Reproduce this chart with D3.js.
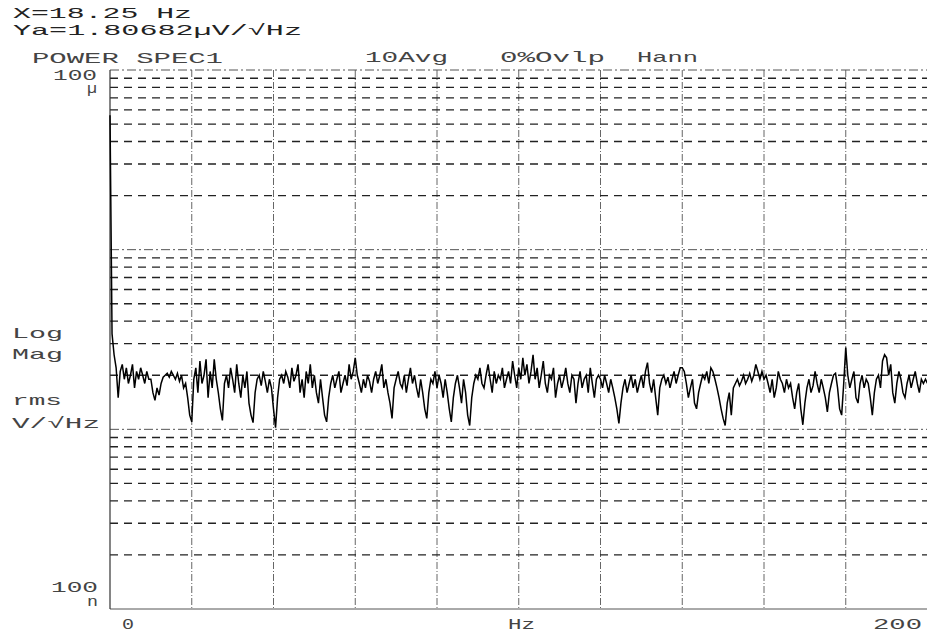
<!DOCTYPE html>
<meta charset="utf-8">
<style>
  body { margin: 0; background: #fff; }
  text { font-family: "Liberation Mono", "DejaVu Sans Mono", monospace; font-size: 15px; fill: #222; }
  text.light { fill: #444; }
</style>
<svg width="927" height="634"></svg>
<script src="https://d3js.org/d3.v7.min.js"></script>
<script>

// spectrum, 0..200 Hz in 0.5 Hz steps, values in uV/rtHz
var spectrum = [
  56, 3.4, 2.6, 2.2, 1.5, 2.1, 2.3, 1.9, 2.2, 1.8, 2.0, 2.3, 1.7, 2.1, 1.9, 2.2, 2.0, 1.8, 2.1, 1.9,
  1.9, 1.6, 1.45, 1.7, 1.55, 1.8, 1.95, 2.0, 2.05, 1.95, 2.1, 2.0, 1.9, 2.05, 1.85, 2.0, 1.7, 1.8, 1.5, 1.2,
  1.1, 1.9, 2.2, 1.6, 2.4, 1.8, 2.0, 2.45, 1.5, 2.1, 1.7, 2.45, 1.9, 1.6, 1.3, 1.12, 1.8, 2.0, 1.7, 2.2,
  1.9, 1.6, 2.3, 1.8, 1.5, 2.0, 1.7, 2.1, 1.4, 1.2, 1.09, 1.6, 1.9, 2.0, 1.75, 2.1, 1.85, 1.6, 1.9, 1.7,
  1.3, 1.02, 1.5, 1.9, 2.0, 1.8, 2.1, 1.95, 1.7, 2.2, 1.85, 2.0, 2.3, 1.6, 1.9, 1.5, 2.1, 1.8, 2.3, 1.7,
  2.0, 1.6, 1.4, 1.9, 1.5, 1.2, 1.1, 1.5, 1.8, 2.0, 1.7, 1.9, 2.1, 1.6, 1.8, 2.0, 1.75, 2.3, 1.9, 2.1,
  2.5, 2.0, 1.8, 1.6, 1.9, 1.7, 2.0, 1.85, 1.6, 1.9, 2.1, 1.8, 2.0, 2.3, 1.7, 1.9, 1.6, 1.4, 1.15, 1.7,
  1.9, 2.1, 1.8, 1.7, 2.0, 1.6, 1.9, 2.2, 1.8, 2.0, 1.7, 1.5, 1.9, 1.6, 1.3, 1.15, 1.6, 1.9, 1.8, 2.1,
  1.7, 2.0, 1.8, 1.5, 1.9, 1.6, 1.3, 1.1, 1.5, 1.8, 2.0, 1.7, 1.4, 1.9, 1.6, 1.2, 1.05, 1.5, 1.8, 2.0,
  1.9, 2.2, 1.8, 1.7, 2.0, 2.3, 1.9, 1.6, 2.1, 1.8, 2.0, 1.9, 2.2, 1.7, 1.9, 2.1, 1.8, 2.4, 2.0, 1.7,
  2.2, 1.9, 2.5, 2.0, 2.3, 1.8, 2.1, 2.6, 1.9, 2.2, 1.7, 2.0, 2.4, 1.8, 1.6, 2.0, 1.9, 2.2, 1.5, 1.8,
  2.0, 1.7, 1.9, 2.2, 1.8, 1.6, 2.0, 1.9, 1.4, 1.8, 2.1, 1.7, 1.9, 2.0, 1.6, 2.2, 1.8, 1.5, 1.9, 2.0,
  1.9, 1.7, 2.0, 1.8, 1.6, 1.9, 1.7, 1.5, 1.3, 1.08, 1.4, 1.7, 1.9, 1.6, 1.8, 2.0, 1.7, 1.9, 1.6, 1.8,
  2.0, 1.7, 2.1, 2.35, 1.8, 1.6, 1.9, 1.5, 1.2, 1.7, 1.9, 2.0, 1.8, 1.95, 1.7, 1.9, 2.1, 1.8, 2.0, 2.2,
  2.2, 2.1, 1.8, 1.5, 1.7, 1.9, 1.4, 1.3, 1.6, 1.8, 2.0, 1.9, 2.1, 1.8, 2.2, 2.1, 1.9, 1.7, 1.5, 1.3,
  1.15, 1.05, 1.4, 1.6, 1.2, 1.7, 1.8, 1.9, 1.75, 1.85, 2.0, 1.8, 1.9, 2.05, 1.85, 2.0, 2.3, 2.1, 1.9, 2.1,
  1.9, 2.0, 1.8, 1.6, 1.9, 1.5, 1.7, 2.1, 1.9, 1.8, 1.6, 1.9, 1.7, 1.8, 1.5, 1.3, 1.6, 1.8, 1.3, 1.06,
  1.4, 1.7, 1.9, 1.6, 1.75, 2.1, 1.8, 1.6, 1.9, 1.7, 1.5, 1.25, 1.6, 1.8, 2.0, 2.05, 1.7, 1.3, 1.2, 1.8,
  2.85, 2.0, 1.7, 1.9, 2.1, 1.5, 1.4, 1.8, 2.0, 1.7, 1.9, 1.8, 1.5, 1.2, 1.6, 1.9, 2.0, 1.7, 2.4, 2.6,
  2.5, 2.0, 2.3, 1.6, 1.4, 1.8, 2.1, 1.9, 1.6, 1.5, 1.8, 2.0, 1.7, 1.9, 2.1, 1.8, 1.6, 1.9, 1.8, 1.9, 1.8
]
var freqStep = 0.5
var decades = [1e-7, 1e-6, 1e-5, 1e-4]

// header and label texts: [text, x, baseline y, width, class]
var headerTexts = [
  ["X=18.25 Hz", 13, 18, 179, ""],
  ["Ya=1.80682\u00b5V/\u221aHz", 13, 35, 289, ""],
  ["POWER SPEC1", 32, 63, 191, "light"],
  ["10Avg", 365, 62, 83, "light"],
  ["0%Ovlp", 500, 62, 105, "light"],
  ["Hann", 637, 62, 61, "light"]
]
var sideTexts = [
  ["100", 53, 80, 44, "light"],
  ["\u00b5", 87, 93, 10, "light"],
  ["Log", 12, 338, 51, "light"],
  ["Mag", 12, 359, 51, "light"],
  ["rms", 12, 405, 50, "light"],
  ["V/\u221aHz", 12, 428, 88, "light"],
  ["100", 51, 592, 47, "light"],
  ["n", 87, 606, 11, "light"]
]
var xTickLabels = [
  ["0", 122, 629, 12, "light"],
  ["Hz", 508, 629, 27, "light"],
  ["200", 873, 629, 49, "light"]
]

var svg = d3.select("svg")

var x = d3.scaleLinear().domain([0, 200]).range([110, 927.5])
var y = d3.scaleLog().domain([1e-7, 1e-4]).range([609, 70])

var grid = svg.append("g")

// vertical grid lines
grid.selectAll("line.v")
  .data(x.ticks(10).slice(1))
  .enter().append("line")
    .attr("x1", d => x(d)).attr("x2", d => x(d))
    .attr("y1", y(1e-4)).attr("y2", y(1e-7))
    .attr("stroke", "#666")
    .attr("stroke-width", 1)
    .attr("stroke-dasharray", "7,2,1,2")

// minor horizontal lines, 2..9 in each decade
var minors = []
decades.slice(0, 3).forEach(function(d) {
  for (var k = 2; k <= 9; k++) minors.push(d * k)
})
grid.selectAll("line.minor")
  .data(minors)
  .enter().append("line")
    .attr("x1", x(0)).attr("x2", x(200))
    .attr("y1", d => y(d)).attr("y2", d => y(d))
    .attr("stroke", "#222")
    .attr("stroke-width", 1.4)
    .attr("stroke-dasharray", "8,6")

// decade lines
grid.selectAll("line.decade")
  .data(decades)
  .enter().append("line")
    .attr("x1", x(0)).attr("x2", x(200))
    .attr("y1", d => y(d)).attr("y2", d => y(d))
    .attr("stroke", "#555")
    .attr("stroke-width", 1)
    .attr("stroke-dasharray", d => d === 1e-7 ? null : "9,3,2,3")

// left axis
svg.append("line")
  .attr("x1", x(0)).attr("x2", x(0))
  .attr("y1", y(1e-4)).attr("y2", y(1e-7))
  .attr("stroke", "#333").attr("stroke-width", 1.2)

// trace
var line = d3.line()
  .x((d, i) => x(i * freqStep))
  .y(d => y(d * 1e-6))

svg.append("path")
  .datum(spectrum)
  .attr("d", line)
  .attr("fill", "none")
  .attr("stroke", "#000")
  .attr("stroke-width", 1.5)

function addTexts(list) {
  svg.append("g").selectAll("text")
    .data(list)
    .enter().append("text")
      .attr("class", d => d[4])
      .attr("x", d => d[1])
      .attr("y", d => d[2])
      .attr("textLength", d => d[3])
      .attr("lengthAdjust", "spacingAndGlyphs")
      .text(d => d[0])
}
addTexts(headerTexts)
addTexts(sideTexts)
addTexts(xTickLabels)

</script>
